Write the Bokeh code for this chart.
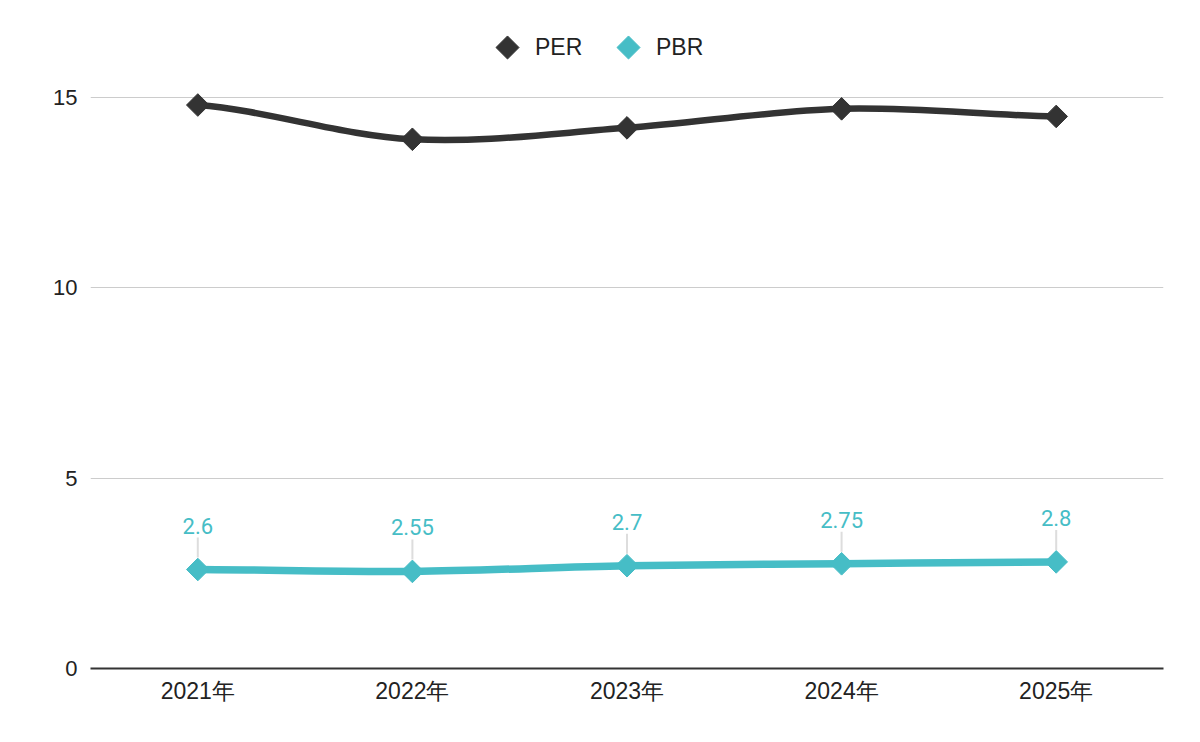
from bokeh.plotting import figure
from bokeh.models import ColumnDataSource, Range1d, FixedTicker, Legend, LegendItem
from bokeh.core.properties import value
from bokeh.embed import file_html
from bokeh.resources import INLINE
import math

# ---- data ----
years = ["2021年", "2022年", "2023年", "2024年", "2025年"]
per = [14.8, 13.9, 14.2, 14.7, 14.5]
pbr = [2.6, 2.55, 2.7, 2.75, 2.8]
pbr_labels = ["2.6", "2.55", "2.7", "2.75", "2.8"]
series_names = ["PER", "PBR"]
y_ticks = [0, 5, 10, 15]

PER_COLOR = "#333333"
PBR_COLOR = "#46bdc6"
FONT = "Liberation Sans"

# ---- layout ----
FRAME_W = 1073
FRAME_H = 648
Y_END = 17.02
PPU = FRAME_H / Y_END          # pixels per y unit
X_END = len(years)
PPX = FRAME_W / X_END          # pixels per x unit

LEG_GLYPH_W = 40
LEG_ITEM_H = 40
LEG_BOTTOM = 601               # legend bottom, px above frame bottom
LEG_LEFTS = [397, 518]         # legend item left edges, px from frame left

xs = [i + 0.5 for i in range(len(years))]


def smooth_source(x, y):
    n = len(x)
    tan = []
    for i in range(n):
        if i == 0:
            tan.append((y[1] - y[0]) / 2)
        elif i == n - 1:
            tan.append((y[-1] - y[-2]) / 2)
        else:
            tan.append((y[i + 1] - y[i - 1]) / 2)
    d = dict(x0=[], y0=[], x1=[], y1=[], cx0=[], cy0=[], cx1=[], cy1=[])
    for i in range(n - 1):
        d["x0"].append(x[i]); d["y0"].append(y[i])
        d["x1"].append(x[i + 1]); d["y1"].append(y[i + 1])
        d["cx0"].append(x[i] + 1 / 3); d["cy0"].append(y[i] + tan[i] / 3)
        d["cx1"].append(x[i + 1] - 1 / 3); d["cy1"].append(y[i + 1] - tan[i + 1] / 3)
    return ColumnDataSource(d)


p = figure(
    width=1192, height=734,
    x_range=Range1d(0, X_END), y_range=Range1d(0, Y_END),
    output_backend="svg", toolbar_location=None,
    min_border_left=90, min_border_right=29, min_border_top=20, min_border_bottom=66,
)
p.outline_line_color = None
p.background_fill_color = "white"
p.border_fill_color = "white"

# grid
p.xgrid.grid_line_color = None
p.ygrid.ticker = FixedTicker(ticks=y_ticks)
p.ygrid.grid_line_color = "#cccccc"
p.ygrid.grid_line_width = 1

# y axis
p.yaxis.ticker = FixedTicker(ticks=y_ticks)
p.yaxis.axis_line_color = None
p.yaxis.major_tick_line_color = None
p.yaxis.minor_tick_line_color = None
p.yaxis.major_label_standoff = 7
p.yaxis.major_label_text_font = FONT
p.yaxis.major_label_text_font_size = "22px"
p.yaxis.major_label_text_color = "#222222"

# x axis
p.xaxis.ticker = FixedTicker(ticks=xs)
p.xaxis.major_label_overrides = {x: y for x, y in zip(xs, years)}
p.xaxis.axis_line_color = "#333333"
p.xaxis.axis_line_width = 2
p.xaxis.major_tick_line_color = None
p.xaxis.minor_tick_line_color = None
p.xaxis.major_label_standoff = 3
p.xaxis.major_label_text_font = FONT
p.xaxis.major_label_text_font_size = "23px"
p.xaxis.major_label_text_color = "#222222"

# lines (smoothed)
p.bezier(x0="x0", y0="y0", x1="x1", y1="y1", cx0="cx0", cy0="cy0", cx1="cx1", cy1="cy1",
         source=smooth_source(xs, per), line_color=PER_COLOR, line_width=6.5, line_cap="round")
p.bezier(x0="x0", y0="y0", x1="x1", y1="y1", cx0="cx0", cy0="cy0", cx1="cx1", cy1="cy1",
         source=smooth_source(xs, pbr), line_color=PBR_COLOR, line_width=7.5, line_cap="round")

# stems for labels
p.segment(x0=xs, y0=[v + 12 / PPU for v in pbr], x1=xs, y1=[v + 32 / PPU for v in pbr],
          line_color="#dddddd", line_width=2)

# markers
r_per = p.scatter(xs, per, marker="square", size=16, angle=math.pi / 4,
                  fill_color=PER_COLOR, line_color=PER_COLOR)
r_pbr = p.scatter(xs, pbr, marker="square", size=16, angle=math.pi / 4,
                  fill_color=PBR_COLOR, line_color=PBR_COLOR)

# data labels
p.text(xs, pbr, text=pbr_labels, y_offset=-44, text_align="center", text_baseline="middle",
       text_font=value("Roboto"), text_font_size="22px", text_color=PBR_COLOR)

# legend (one per item so positions are exact); diamond keys drawn on top of the legend glyph spot
for name, rend, color, left in zip(series_names, [r_per, r_pbr], [PER_COLOR, PBR_COLOR], LEG_LEFTS):
    leg = Legend(
        items=[LegendItem(label=name, renderers=[rend])],
        orientation="horizontal", location=(left, LEG_BOTTOM),
        glyph_width=LEG_GLYPH_W, glyph_height=20, label_height=LEG_ITEM_H,
        label_standoff=8, padding=0, margin=0,
        border_line_color=None, background_fill_alpha=0,
        label_text_font=FONT, label_text_font_size="23px", label_text_color="#222222",
    )
    p.add_layout(leg)
    cx = (left + LEG_GLYPH_W / 2) / PPX
    cy = (LEG_BOTTOM + LEG_ITEM_H / 2) / PPU
    p.scatter([cx], [cy], marker="square", size=16.3, angle=math.pi / 4,
              fill_color=color, line_color=color)

open("out.html", "w").write(file_html(p, INLINE))
